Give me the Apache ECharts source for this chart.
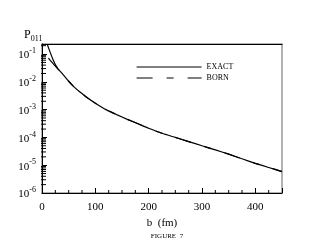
<!DOCTYPE html>
<html><head><meta charset="utf-8">
<script src="https://cdn.jsdelivr.net/npm/echarts@6/dist/echarts.min.js"></script>
<style>html,body{margin:0;padding:0;background:#fff}#c{width:320px;height:245px}</style>
</head><body><div id="c"></div>
<script>
const seriesNames = ['EXACT', 'BORN'];
const exactB = [10, 15, 20, 25, 30, 35, 40, 50, 60, 70, 80, 90, 100, 120, 140, 160, 180, 200, 225, 250, 275, 300, 325, 350, 375, 400, 425, 450];
const exactP = [0.22, 0.12, 0.068, 0.042, 0.0295, 0.0229, 0.0178, 0.0105, 0.0066, 0.00447, 0.00316, 0.00229, 0.0017, 0.0010, 0.00066, 0.000447, 0.00031, 0.000214, 0.000141, 0.0001, 7.1e-5, 5.0e-5, 3.55e-5, 2.5e-5, 1.7e-5, 1.17e-5, 8.3e-6, 5.9e-6];
const bornB = [12, 15, 20, 25, 30, 35, 40, 50, 60, 70, 80, 90, 100, 120, 140, 160, 180, 200, 225, 250, 275, 300, 325, 350, 375, 400, 425, 450];
const bornP = [0.0708, 0.0603, 0.0468, 0.0372, 0.0288, 0.0229, 0.0178, 0.0105, 0.0066, 0.00447, 0.00316, 0.00229, 0.0017, 0.0010, 0.00066, 0.000447, 0.00031, 0.000214, 0.000141, 0.0001, 7.1e-5, 5.0e-5, 3.55e-5, 2.5e-5, 1.7e-5, 1.17e-5, 8.3e-6, 5.9e-6];
const xTickLabels = [0, 100, 200, 300, 400];
const xMinorTicks = [25, 50, 75, 125, 150, 175, 225, 250, 275, 325, 350, 375, 425];
const yDecades = [1e-6, 1e-5, 1e-4, 1e-3, 1e-2, 1e-1];
const yMinorMult = [2, 3, 4, 5, 6, 7, 8, 9];
const xMin = 0, xMax = 450, yMin = 1e-6, yMax = 0.23;

const yMinorTicks = [];
yDecades.forEach(d => yMinorMult.forEach(m => { const v = d * m; if (v <= yMax) yMinorTicks.push(v); }));

const font = 'Liberation Serif';
const chart = echarts.init(document.getElementById('c'), null, {renderer: 'canvas'});
chart.setOption({
  animation: false,
  backgroundColor: '#fff',
  title: [
    {text: '{p|P}{s|011}', left: 19, top: 24, textStyle: {fontWeight: 'normal', rich: {
      p: {fontFamily: font, fontSize: 12, fontWeight: 'normal', color: '#000', lineHeight: 14, verticalAlign: 'top'},
      s: {fontFamily: font, fontSize: 8, fontWeight: 'normal', color: '#000', lineHeight: 14, verticalAlign: 'bottom', padding: [4, 0, 0, 0]}}}},
    {text: 'FIGURE  7', left: 162, top: 228, textAlign: 'center', textStyle: {fontFamily: font, fontSize: 7, fontWeight: 'normal', color: '#000'}}
  ],
  legend: {
    data: seriesNames, orient: 'vertical', left: 131, top: 58, itemWidth: 65, itemHeight: 10, itemGap: 3,
    itemStyle: {opacity: 0},
    lineStyle: {width: 1.2},
    textStyle: {fontFamily: font, fontSize: 8, color: '#000'},
    selectedMode: false
  },
  grid: {left: 42, right: 38, top: 44, bottom: 52, show: true, borderWidth: 1.5, borderColor: '#999', backgroundColor: 'transparent'},
  xAxis: [
    {type: 'value', min: xMin, max: xMax, interval: 100,
     name: 'b  (fm)', nameLocation: 'middle', nameGap: 20,
     nameTextStyle: {fontFamily: font, fontSize: 11, color: '#000'},
     axisLine: {onZero: false, lineStyle: {color: '#000', width: 1}},
     axisTick: {inside: true, length: 5, lineStyle: {color: '#000'}},
     axisLabel: {fontFamily: font, fontSize: 11, color: '#000', margin: 9,
       formatter: v => xTickLabels.indexOf(v) >= 0 ? String(v) : ''},
     splitLine: {show: false}},
    {type: 'value', position: 'top', min: xMin, max: xMax,
     axisLine: {show: true, onZero: false, lineStyle: {color: '#000', width: 1}},
     axisTick: {show: false}, axisLabel: {show: false}, splitLine: {show: false}}
  ],
  yAxis: [
    {type: 'log', logBase: 10, min: yMin, max: yMax, interval: 1,
     axisLine: {onZero: false, lineStyle: {color: '#000', width: 1}},
     axisTick: {inside: true, length: 5, lineStyle: {color: '#000'}},
     axisLabel: {margin: 6, formatter: v => {
        const l = Math.log10(v); const e = Math.round(l);
        if (Math.abs(l - e) > 1e-6) return '';
        return '{b|10}{s|' + e + '}';
      }, rich: {
        b: {fontFamily: font, fontSize: 11, color: '#000', lineHeight: 14, verticalAlign: 'bottom'},
        s: {fontFamily: font, fontSize: 8, color: '#000', lineHeight: 14, verticalAlign: 'top', padding: [0, 0, 6, 0]}
      }},
     splitLine: {show: false}}
  ],
  series: [
    {name: 'BORN', type: 'line', showSymbol: false, symbol: 'none', smooth: 0.2,
     lineStyle: {color: '#000', width: 1.2, type: [16, 14, 7, 14]},
     itemStyle: {color: '#000'},
     data: bornB.map((b, i) => [b, bornP[i]])},
    {name: 'EXACT', type: 'line', showSymbol: false, symbol: 'none', smooth: 0.2,
     lineStyle: {color: '#000', width: 1.2},
     itemStyle: {color: '#000'},
     data: exactB.map((b, i) => [b, exactP[i]])},
    {type: 'custom', silent: true, clip: false,
     data: yMinorTicks.map(v => [xMin, v]),
     renderItem: (params, api) => {
       const p = api.coord([api.value(0), api.value(1)]);
       return {type: 'line', shape: {x1: p[0] - 1, y1: p[1], x2: p[0] + 4, y2: p[1]}, style: {stroke: '#000', lineWidth: 1}};
     }},
    {type: 'custom', silent: true, clip: false,
     data: xMinorTicks.map(v => [v, yMin]),
     renderItem: (params, api) => {
       const p = api.coord([api.value(0), api.value(1)]);
       return {type: 'line', shape: {x1: p[0], y1: p[1], x2: p[0], y2: p[1] - 3}, style: {stroke: '#000', lineWidth: 1}};
     }}
  ]
});
</script></body></html>
